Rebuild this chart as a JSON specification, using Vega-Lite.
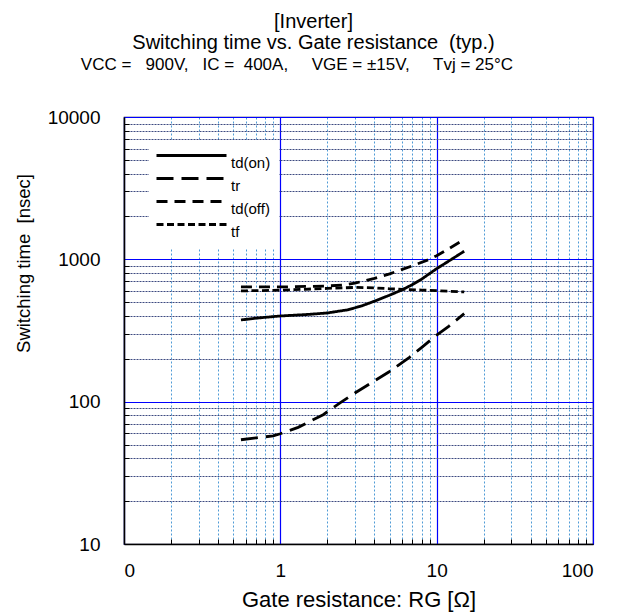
{
  "$schema": "https://vega.github.io/schema/vega-lite/v6.json",
  "autosize": "none",
  "width": 469,
  "height": 427,
  "padding": {"left": 124, "top": 117, "right": 24, "bottom": 71},
  "background": "white",
  "config": {
    "font": "Liberation Sans",
    "view": {"stroke": "#1a1a40", "strokeWidth": 1.2},
    "axis": {"labelFont": "Liberation Sans", "titleFont": "Liberation Sans", "labelColor": "black", "titleColor": "black", "titleFontWeight": "normal"}
  },
  "title": {
    "text": ["[Inverter]", "Switching time vs. Gate resistance \u00a0(typ.)"],
    "subtitle": "VCC = \u00a0 900V, \u00a0 IC = \u00a0400A, \u00a0 \u00a0 VGE = ±15V, \u00a0 \u00a0 Tvj = 25°C\u00a0\u00a0\u00a0\u00a0\u00a0\u00a0\u00a0\u200b",
    "fontSize": 20,
    "fontWeight": "normal",
    "lineHeight": 21,
    "subtitleFontSize": 17,
    "subtitleColor": "black",
    "subtitlePadding": 4,
    "color": "black",
    "anchor": "middle",
    "frame": "group",
    "dx": -45,
    "offset": 35
  },
  "data": {
    "values": [
      {"R": 0.56, "t": 375, "s": "td(on)"},
      {"R": 0.7, "t": 386, "s": "td(on)"},
      {"R": 1, "t": 400, "s": "td(on)"},
      {"R": 1.5, "t": 410, "s": "td(on)"},
      {"R": 2, "t": 420, "s": "td(on)"},
      {"R": 2.7, "t": 442, "s": "td(on)"},
      {"R": 3.3, "t": 470, "s": "td(on)"},
      {"R": 4, "t": 508, "s": "td(on)"},
      {"R": 5, "t": 560, "s": "td(on)"},
      {"R": 6, "t": 610, "s": "td(on)"},
      {"R": 7, "t": 665, "s": "td(on)"},
      {"R": 8, "t": 725, "s": "td(on)"},
      {"R": 10, "t": 860, "s": "td(on)"},
      {"R": 12, "t": 975, "s": "td(on)"},
      {"R": 15, "t": 1140, "s": "td(on)"},
      {"R": 0.56, "t": 54, "s": "tr"},
      {"R": 0.9, "t": 57.5, "s": "tr"},
      {"R": 1, "t": 59.5, "s": "tr"},
      {"R": 1.3, "t": 66, "s": "tr"},
      {"R": 1.88, "t": 81, "s": "tr"},
      {"R": 2.41, "t": 98, "s": "tr"},
      {"R": 3, "t": 115, "s": "tr"},
      {"R": 4, "t": 140, "s": "tr"},
      {"R": 5, "t": 163, "s": "tr"},
      {"R": 6.7, "t": 205, "s": "tr"},
      {"R": 8, "t": 240, "s": "tr"},
      {"R": 10, "t": 294, "s": "tr"},
      {"R": 12, "t": 340, "s": "tr"},
      {"R": 15, "t": 415, "s": "tr"},
      {"R": 0.56, "t": 640, "s": "td(off)"},
      {"R": 1, "t": 640, "s": "td(off)"},
      {"R": 1.5, "t": 645, "s": "td(off)"},
      {"R": 2, "t": 650, "s": "td(off)"},
      {"R": 2.5, "t": 660, "s": "td(off)"},
      {"R": 3, "t": 680, "s": "td(off)"},
      {"R": 4, "t": 735, "s": "td(off)"},
      {"R": 5, "t": 790, "s": "td(off)"},
      {"R": 7, "t": 900, "s": "td(off)"},
      {"R": 9, "t": 1000, "s": "td(off)"},
      {"R": 10, "t": 1060, "s": "td(off)"},
      {"R": 12, "t": 1190, "s": "td(off)"},
      {"R": 15, "t": 1380, "s": "td(off)"},
      {"R": 0.56, "t": 600, "s": "tf"},
      {"R": 1, "t": 607, "s": "tf"},
      {"R": 2, "t": 625, "s": "tf"},
      {"R": 3, "t": 635, "s": "tf"},
      {"R": 4, "t": 630, "s": "tf"},
      {"R": 5, "t": 621, "s": "tf"},
      {"R": 6, "t": 616, "s": "tf"},
      {"R": 8, "t": 608, "s": "tf"},
      {"R": 10, "t": 603, "s": "tf"},
      {"R": 12, "t": 597, "s": "tf"},
      {"R": 15, "t": 590, "s": "tf"}
    ]
  },
  "layer": [
    {
      "mark": {"type": "point", "opacity": 0},
      "encoding": {
        "x": {
          "field": "R", "type": "quantitative",
          "scale": {"type": "log", "domain": [0.1, 100], "nice": false},
          "axis": {
            "orient": "bottom",
            "values": [0.2, 0.3, 0.4, 0.5, 0.6, 0.7, 0.8, 0.9, 2, 3, 4, 5, 6, 7, 8, 9, 20, 30, 40, 50, 60, 70, 80, 90],
            "grid": true, "gridColor": "#4f9bd6", "gridDash": [2, 2], "gridWidth": 1,
            "labels": false, "domain": false, "ticks": true, "tickSize": -5, "tickColor": "black",
            "title": null
          }
        },
        "y": {
          "field": "t", "type": "quantitative",
          "scale": {"type": "log", "domain": [10, 10000], "nice": false},
          "axis": {
            "orient": "left",
            "values": [20, 30, 40, 50, 60, 70, 80, 90, 200, 300, 400, 500, 600, 700, 800, 900, 2000, 3000, 4000, 5000, 6000, 7000, 8000, 9000],
            "grid": true, "gridColor": "#3d4a80", "gridDash": [2, 1], "gridWidth": 1,
            "labels": false, "domain": false, "ticks": true, "tickSize": -5, "tickColor": "black",
            "title": null
          }
        }
      }
    },
    {
      "mark": {"type": "line", "color": "black", "strokeWidth": 2.8},
      "encoding": {
        "x": {
          "field": "R", "type": "quantitative",
          "scale": {"type": "log", "domain": [0.1, 100], "nice": false},
          "axis": {
            "orient": "bottom",
            "values": [0.1, 1, 10, 100],
            "grid": true, "gridColor": "#0000ff", "gridWidth": 1.2,
            "ticks": false, "domainColor": "black", "domainWidth": 1.5,
            "labelFontSize": 19, "labelPadding": 17,
            "labelExpr": "datum.value < 0.5 ? '0' : format(datum.value, 'd')",
            "title": "Gate resistance: RG [Ω]", "titleFontSize": 22, "titlePadding": 9
          }
        },
        "y": {
          "field": "t", "type": "quantitative",
          "scale": {"type": "log", "domain": [10, 10000], "nice": false},
          "axis": {
            "orient": "left",
            "values": [10, 100, 1000, 10000],
            "grid": true, "gridColor": "#0000ff", "gridWidth": 1.2,
            "ticks": false, "domainColor": "black", "domainWidth": 1.5,
            "labelFontSize": 19, "labelPadding": 24, "format": "d",
            "title": "Switching time \u00a0[nsec]", "titleFontSize": 18.5,
            "titleX": -95, "titleY": 146, "titleAngle": -90, "titleAlign": "center", "titleBaseline": "alphabetic"
          }
        },
        "detail": {"field": "s"},
        "strokeDash": {
          "field": "s", "type": "nominal",
          "scale": {"domain": ["td(on)", "tr", "td(off)", "tf"], "range": [[1, 0], [17, 8], [11, 7], [7, 3.5]]},
          "legend": {
            "orient": "none", "legendX": 25, "legendY": 23,
            "title": null, "fillColor": "white", "padding": 8,
            "symbolType": "M-10,0H10", "symbolSize": 49, "symbolOffset": 27,
            "symbolStrokeColor": "black", "symbolStrokeWidth": 3,
            "labelFontSize": 15, "labelOffset": 32, "labelBaseline": "top", "labelColor": "black",
            "labelExpr": "datum.label + '\u00a0\u00a0\u00a0\u00a0\u00a0\u00a0\u00a0\u00a0'",
            "rowPadding": 0
          }
        }
      }
    }
  ],
  "resolve": {"axis": {"x": "independent", "y": "independent"}}
}
